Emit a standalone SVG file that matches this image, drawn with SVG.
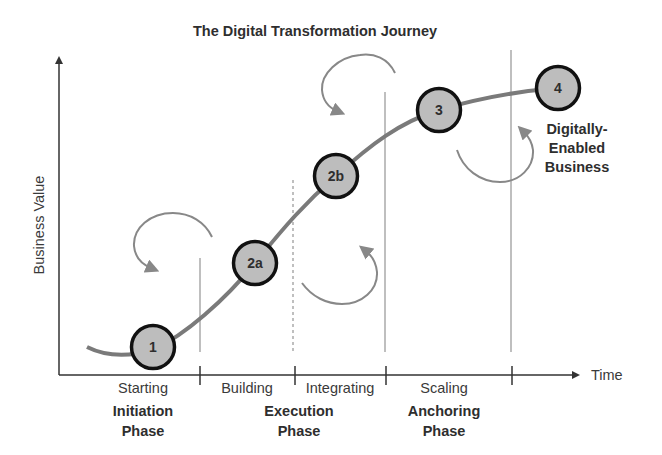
<svg xmlns="http://www.w3.org/2000/svg" width="662" height="455" viewBox="0 0 662 455">
<defs>
<style>
text{font-family:"Liberation Sans",Arial,sans-serif;}
.title{font-size:14.5px;font-weight:bold;fill:#2e2e2e;}
.lbl{font-size:14.5px;fill:#3a3a3a;}
.bold{font-size:14.5px;font-weight:bold;fill:#2e2e2e;}
.num{font-size:14px;font-weight:bold;fill:#2e2e2e;}
.node circle{fill:#bdbdbd;stroke:#111;stroke-width:3.5;}
.axis{stroke:#333;stroke-width:1.5;fill:none;}
.vline{stroke:#aaa;stroke-width:1.5;}
.loop{fill:none;stroke:#888;stroke-width:2;marker-end:url(#ah);}
</style>
<marker id="ah" markerUnits="userSpaceOnUse" markerWidth="14" markerHeight="14" refX="5" refY="7" orient="auto">
<path d="M0,0 L14,7 L0,14 z" fill="#888"/>
</marker>
<marker id="axh" markerUnits="userSpaceOnUse" markerWidth="8" markerHeight="8" refX="4" refY="4" orient="auto">
<path d="M0,0 L8,4 L0,8 z" fill="#333"/>
</marker>
</defs>
<rect width="662" height="455" fill="#fff"/>
<text class="title" x="315" y="36" text-anchor="middle">The Digital Transformation Journey</text>

<g id="axes">
<path class="axis" d="M59,375 L59,60" marker-end="url(#axh)"/>
<path class="axis" d="M59,375 L576,375" marker-end="url(#axh)"/>
<line class="axis" x1="200" y1="366" x2="200" y2="385"/>
<line class="axis" x1="295" y1="366" x2="295" y2="385"/>
<line class="axis" x1="386" y1="366" x2="386" y2="385"/>
<line class="axis" x1="512" y1="366" x2="512" y2="385"/>
<text class="lbl" x="591" y="380">Time</text>
<text class="lbl" x="44" y="225" text-anchor="middle" transform="rotate(-90 44 225)">Business Value</text>
</g>

<g id="dividers">
<line class="vline" x1="200" y1="258" x2="200" y2="352"/>
<line class="vline" x1="293" y1="180" x2="293" y2="352" stroke-dasharray="3,3"/>
<line class="vline" x1="385" y1="92" x2="385" y2="352"/>
<line class="vline" x1="511" y1="50" x2="511" y2="352"/>
</g>

<g id="labels">
<text class="lbl" x="143" y="393" text-anchor="middle">Starting</text>
<text class="lbl" x="247" y="393" text-anchor="middle">Building</text>
<text class="lbl" x="340" y="393" text-anchor="middle">Integrating</text>
<text class="lbl" x="444" y="393" text-anchor="middle">Scaling</text>
<text class="bold" x="143" y="416" text-anchor="middle">Initiation</text>
<text class="bold" x="143" y="436" text-anchor="middle">Phase</text>
<text class="bold" x="299" y="416" text-anchor="middle">Execution</text>
<text class="bold" x="299" y="436" text-anchor="middle">Phase</text>
<text class="bold" x="444" y="416" text-anchor="middle">Anchoring</text>
<text class="bold" x="444" y="436" text-anchor="middle">Phase</text>
<text class="bold" x="577" y="134" text-anchor="middle">Digitally-</text>
<text class="bold" x="577" y="153" text-anchor="middle">Enabled</text>
<text class="bold" x="577" y="172" text-anchor="middle">Business</text>
</g>

<g id="connectors">
<path d="M87,347 C105,356 125,358 153,350 C185,335 225,300 255,263 C285,226 305,203 336,176 C370,145 400,122 439,110 C480,98 520,91 558,88" fill="none" stroke="#7a7a7a" stroke-width="4"/>
<path class="loop" d="M212,237 C205,222 190,213 173,213 C150,213 133,228 134,246 C135,259 144,265 151,268"/>
<path class="loop" d="M395,73 C388,58 374,53 360,55 C338,57 321,74 322,90 C323,102 330,108 337,111"/>
<path class="loop" d="M302,283 C312,297 327,304 342,304 C362,304 378,290 377,272 C376,262 371,255 366,251"/>
<path class="loop" d="M457,150 C463,169 480,182 500,182 C520,182 534,167 533,150 C532,142 528,136 524,132"/>
</g>

<g id="n1" class="node"><circle cx="153" cy="347" r="21.5"/><text class="num" x="153" y="352" text-anchor="middle">1</text></g>
<g id="n2a" class="node"><circle cx="255" cy="263" r="21.5"/><text class="num" x="255" y="268" text-anchor="middle">2a</text></g>
<g id="n2b" class="node"><circle cx="336" cy="176" r="21.5"/><text class="num" x="336" y="181" text-anchor="middle">2b</text></g>
<g id="n3" class="node"><circle cx="439" cy="110" r="21.5"/><text class="num" x="439" y="115" text-anchor="middle">3</text></g>
<g id="n4" class="node"><circle cx="558" cy="88" r="21.5"/><text class="num" x="558" y="93" text-anchor="middle">4</text></g>
</svg>
